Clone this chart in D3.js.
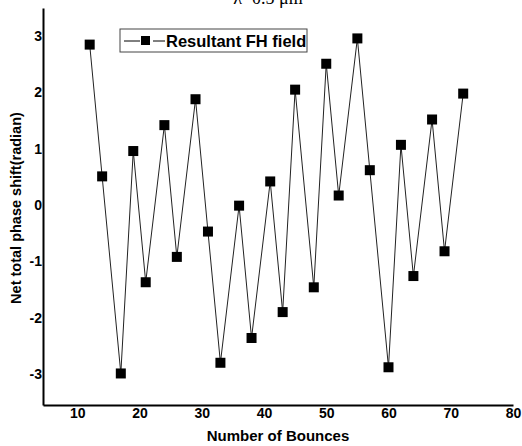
<!DOCTYPE html>
<meta charset="utf-8">
<style>
body { margin: 0; background: #fff; }
text { font-family: "Liberation Sans", Arial, sans-serif; }
.axis text { font-weight: bold; font-size: 14px; fill: #000; }
.axis path { stroke: #000; stroke-width: 2px; }
</style>
<svg width="522" height="446"></svg>
<script src="https://d3js.org/d3.v7.min.js"></script>
<script>

// data
var bounces = [12, 14, 17, 19, 21, 24, 26, 29, 31, 33, 36, 38, 41, 43, 45, 48, 50, 52, 55, 57, 60, 62, 64, 67, 69, 72];
var phaseShift = [2.85, 0.51, -2.99, 0.96, -1.37, 1.42, -0.92, 1.88, -0.47, -2.8, -0.01, -2.36, 0.42, -1.9, 2.05, -1.46, 2.51, 0.17, 2.96, 0.62, -2.88, 1.07, -1.26, 1.52, -0.82, 1.98];
var xTicks = [10, 20, 30, 40, 50, 60, 70, 80];
var yTicks = [-3, -2, -1, 0, 1, 2, 3];
var seriesName = "Resultant FH field";

var svg = d3.select("svg");

var x = d3.scaleLinear().domain([4.5, 80]).range([43, 513]);
var y = d3.scaleLinear().domain([-3.55, 3.5]).range([405, 8]);

var pts = bounces.map(function(b, i) { return {x: b, y: phaseShift[i]}; });
var plain = function(d) { return String(d); };

// title, mostly cut off at the top
svg.append("text")
    .attr("x", 268)
    .attr("y", 4)
    .attr("text-anchor", "middle")
    .style("font-family", "'Liberation Serif', serif")
    .style("font-size", "18px")
    .text("\u03bb=0.5 \u03bcm");

svg.append("g")
    .attr("class", "axis")
    .attr("transform", "translate(0,405)")
    .call(d3.axisBottom(x).tickValues(xTicks).tickFormat(plain).tickSize(0).tickPadding(3));

svg.append("g")
    .attr("class", "axis")
    .attr("transform", "translate(43,0)")
    .call(d3.axisLeft(y).tickValues(yTicks).tickFormat(plain).tickSize(0).tickPadding(1));

svg.append("path")
    .datum(pts)
    .attr("fill", "none")
    .attr("stroke", "#222")
    .attr("stroke-width", 1)
    .attr("d", d3.line().x(function(d) { return x(d.x); }).y(function(d) { return y(d.y); }));

svg.append("g")
  .selectAll("rect")
  .data(pts)
  .enter().append("rect")
    .attr("x", function(d) { return x(d.x) - 5; })
    .attr("y", function(d) { return y(d.y) - 5; })
    .attr("width", 10)
    .attr("height", 10)
    .attr("fill", "#000");

// legend
var lg = svg.append("g").attr("transform", "translate(120,29)");
lg.append("rect")
    .attr("width", 187).attr("height", 23)
    .attr("fill", "#fff").attr("stroke", "#444").attr("stroke-width", 1);
lg.append("line").attr("x1", 4).attr("x2", 20).attr("y1", 12).attr("y2", 12)
    .attr("stroke", "#000").attr("stroke-width", 1);
lg.append("line").attr("x1", 33).attr("x2", 45).attr("y1", 12).attr("y2", 12)
    .attr("stroke", "#000").attr("stroke-width", 1);
lg.append("rect").attr("x", 21).attr("y", 7).attr("width", 9).attr("height", 9).attr("fill", "#000");
lg.append("text")
    .attr("x", 46).attr("y", 18)
    .style("font-weight", "bold").style("font-size", "16.5px")
    .text(seriesName);

svg.append("text")
    .attr("x", 278).attr("y", 441)
    .attr("text-anchor", "middle")
    .style("font-weight", "bold").style("font-size", "15px")
    .text("Number of Bounces");

svg.append("text")
    .attr("transform", "translate(21,208) rotate(-90)")
    .attr("text-anchor", "middle")
    .style("font-weight", "bold").style("font-size", "14.5px")
    .text("Net total phase shift(radian)");

</script>
